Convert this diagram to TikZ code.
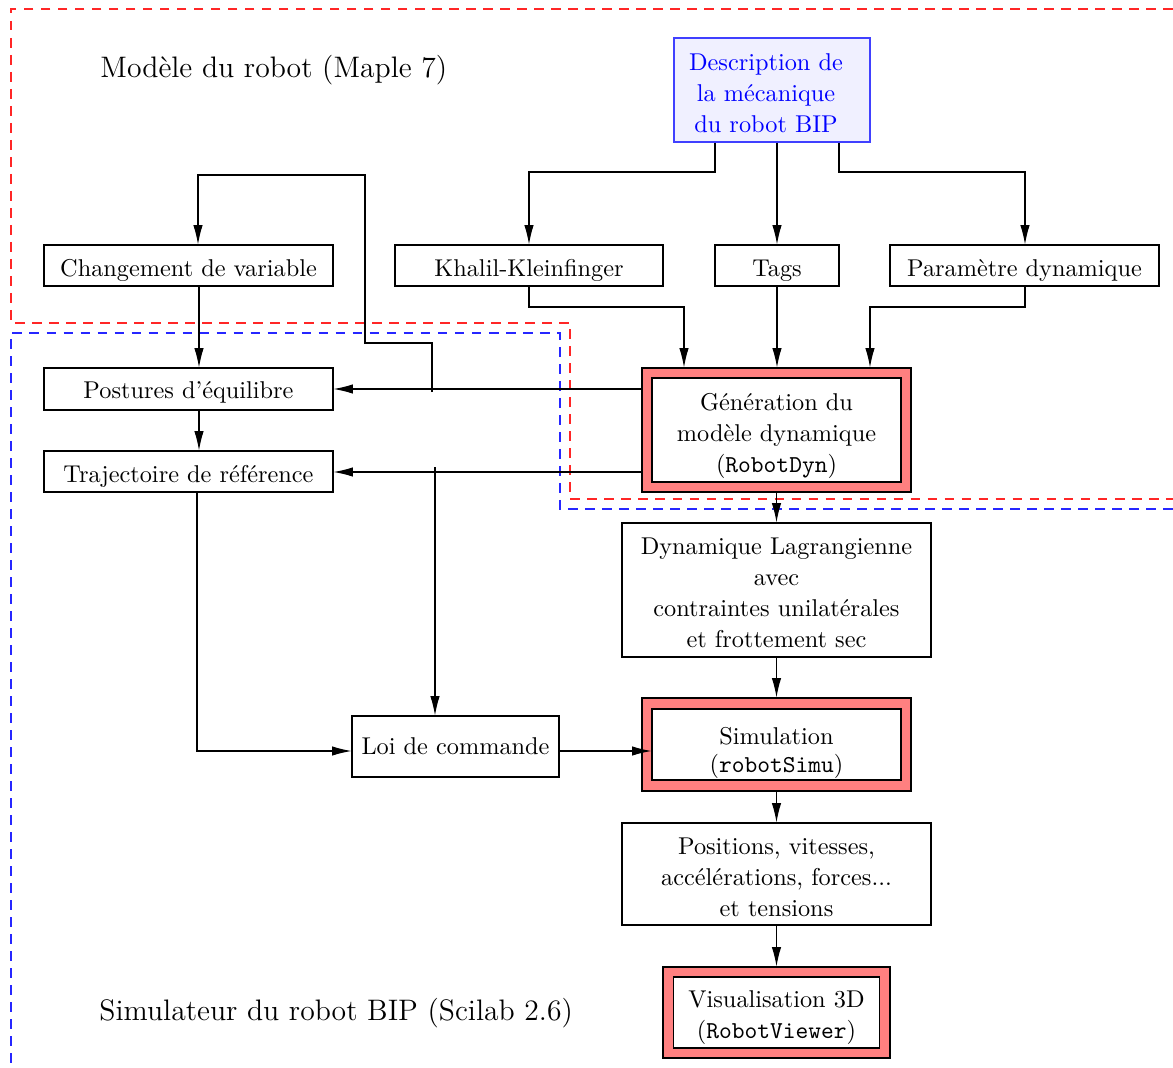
\documentclass[tikz,border=0pt]{standalone}
\usetikzlibrary{arrows.meta}
\begin{document}
\begin{tikzpicture}[x=0.4115pt,y=-0.4115pt,
  sz/.style 2 args={minimum width=#1*0.4115pt, minimum height=#2*0.4115pt},
  dn/.style={execute at begin node={\rule{0pt}{#1}}},
  bx/.style={draw=black, line width=0.45pt, inner sep=0pt, align=center, font=\fontsize{10pt}{12.7pt}\selectfont},
  tx/.style={inner sep=0pt, align=center, font=\fontsize{10pt}{12.7pt}\selectfont},
  redbox/.style={draw=black, line width=0.45pt, fill=red!50, inner sep=0pt},
  whitebox/.style={bx, fill=white},
  arr/.style={line width=0.45pt, -{Latex[length=8pt,width=3.9pt]}},
  reddash/.style={red!85, line width=0.5pt, dash pattern=on 4pt off 3pt},
  bluedash/.style={blue!85, line width=0.5pt, dash pattern=on 4pt off 3pt},
  title/.style={anchor=west, inner sep=0pt, font=\fontsize{12.2pt}{14pt}\selectfont}]
\useasboundingbox (0,0) rectangle (1173,1068);

% dashed regions
\draw[reddash] (1190,9) -- (11,9) -- (11,323) -- (570,323) -- (570,499) -- (1190,499);
\draw[bluedash] (11,1080) -- (11,333) -- (560,333) -- (560,509) -- (1190,509);

% titles
\node[title] (t1) at (100,70) {Modèle du robot (Maple 7)};
\node[title] (t2) at (99,1013) {Simulateur du robot BIP (Scilab 2.6)};

% nodes
\node[bx, sz={196}{104}, draw=blue!75, fill=blue!6] (desc) at (772,90) {};
\node[tx, text=blue] (descT) at (766,93) {Description de\\la mécanique\\du robot BIP};
\node[bx, sz={289}{41}, dn=11.06pt] (chg) at (188.5,265.5) {Changement de variable};
\node[bx, sz={268}{41}, dn=11.06pt] (kk) at (529,265.5) {Khalil-Kleinfinger};
\node[bx, sz={124}{41}, dn=11.06pt] (tags) at (777,265.5) {Tags};
\node[bx, sz={269}{41}, dn=11.06pt] (param) at (1024.5,265.5) {Paramètre dynamique};
\node[bx, sz={289}{42}, dn=9.8pt] (post) at (188.5,389) {Postures d'équilibre};
\node[bx, sz={289}{41}, dn=11.06pt] (traj) at (188.5,471.5) {Trajectoire de référence};

\node[redbox, sz={269}{124}] (gen) at (776.5,430) {};
\node[whitebox, sz={249}{104}] (genin) at (776.5,430) {};
\node[tx] (genT) at (776.5,436) {Génération du\\modèle dynamique\\(\texttt{RobotDyn})};

\node[bx, sz={309}{134}] (dyn) at (776.5,590) {};
\node[tx] (dynT) at (776.5,593) {Dynamique Lagrangienne\\avec\\contraintes unilatérales\\et frottement sec};
\node[bx, sz={207}{61}] (loi) at (455.5,746.5) {Loi de commande};

\node[redbox, sz={269}{93}] (sim) at (776.5,744.5) {};
\node[whitebox, sz={249}{71}] (simin) at (776.5,744.5) {};
\node[tx, font=\fontsize{10pt}{11.5pt}\selectfont] (simT) at (776.5,753) {Simulation\\(\texttt{robotSimu})};

\node[bx, sz={309}{102}] (pos) at (776.5,874) {};
\node[tx] (posT) at (776.5,877.5) {Positions, vitesses,\\accélérations, forces...\\et tensions};

\node[redbox, sz={227}{91}] (vis) at (776.5,1012.5) {};
\node[whitebox, sz={206}{71}] (visin) at (776.5,1012.5) {};
\node[tx] (visT) at (776.5,1018) {Visualisation 3D\\(\texttt{RobotViewer})};

% connectors
\draw[arr] (desc.south -| 715,0) -- (715,172) -| (kk.north);
\draw[arr] (desc.south -| tags.north) -- (tags.north);
\draw[arr] (desc.south -| 839,0) -- (839,172) -| (param.north -| 1025,0);

\draw[arr] (kk.south) -- (529,307) -| (gen.north -| 684,0);
\draw[arr] (tags.south) -- (gen.north -| tags.south);
\draw[arr] (param.south -| 1025,0) -- (1025,307) -| (gen.north -| 870,0);

\draw[arr] (chg.south -| 199,0) -- (post.north -| 199,0);
\draw[arr] (post.south -| 199,0) -- (traj.north -| 199,0);

\draw[arr] (gen.west |- 0,389) -- (post.east |- 0,389);
\draw[arr] (gen.west |- 0,472) -- (traj.east |- 0,472);

\coordinate (b1) at (432,392);
\draw[arr] (b1) -- (432,343) -- (365,343) -- (365,175) -| (chg.north -| 198,0);
\coordinate (b2) at (435,467);
\draw[arr] (b2) -- (loi.north -| 435,0);

\draw[arr] (traj.south -| 197,0) -- (197,751) -- (loi.west |- 0,751);
\draw[arr] (loi.east |- 0,751) -- (simin.west |- 0,751);

\draw[arr] (gen.south) -- (dyn.north);
\draw[arr] (dyn.south) -- (sim.north);
\draw[arr] (sim.south) -- (pos.north);
\draw[arr] (pos.south) -- (vis.north);
\end{tikzpicture}
\end{document}
